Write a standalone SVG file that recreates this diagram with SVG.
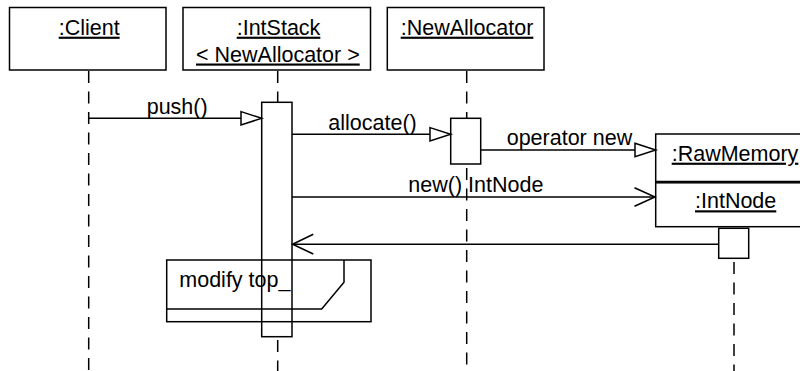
<svg xmlns="http://www.w3.org/2000/svg" width="800" height="371" viewBox="0 0 800 371">
<defs>
<style>
text{font-family:"Liberation Sans",Arial,sans-serif;font-size:21.5px;fill:#000}
.u{text-decoration:underline}
.box{fill:#fff;stroke:#000;stroke-width:1.5}
.act{fill:#fff;stroke:#000;stroke-width:1.5}
.life{stroke:#000;stroke-width:1.5;stroke-dasharray:12 8.5;fill:none}
.msg{stroke:#000;stroke-width:1.5;fill:none}
.tri{fill:#fff;stroke:#000;stroke-width:1.5}
</style>
</defs>
<rect width="800" height="371" fill="#fff"/>
<g id="lifelines">
<line class="life" x1="88.7" y1="71" x2="88.7" y2="371"/>
<line class="life" x1="277.7" y1="71" x2="277.7" y2="102"/>
<line class="life" x1="277.7" y1="340" x2="277.7" y2="371"/>
<line class="life" x1="466.7" y1="71" x2="466.7" y2="118"/>
<line class="life" x1="466.7" y1="168" x2="466.7" y2="371"/>
<line class="life" x1="734" y1="262" x2="734" y2="371"/>
</g>
<g id="client">
<rect class="box" x="9.5" y="7.5" width="156.5" height="62.5"/>
<text class="u" x="58.7" y="34.7">:Client</text>
</g>
<g id="intstack">
<rect class="box" x="183" y="7.5" width="187.5" height="62.5"/>
<text class="u" x="236.7" y="34.7">:IntStack</text>
<text class="u" x="196" y="61.5">&lt; NewAllocator &gt;</text>
<rect class="act" x="261.7" y="102.3" width="30.3" height="234.4"/>
</g>
<g id="newallocator">
<rect class="box" x="387.3" y="7.5" width="156.7" height="62.5"/>
<text class="u" x="400.7" y="34.7">:NewAllocator</text>
<rect class="act" x="450.7" y="118.3" width="30" height="45.7"/>
</g>
<g id="rawmemory">
<rect class="box" x="655.7" y="134" width="160" height="47.5"/>
<text class="u" x="671.7" y="160.7">:RawMemory</text>
</g>
<g id="intnode">
<rect class="box" x="655.7" y="182.8" width="160" height="43.9"/>
<text class="u" x="695" y="208.3">:IntNode</text>
<rect class="act" x="718.7" y="228.3" width="30" height="30"/>
</g>
<g id="note">
<rect x="166.7" y="260" width="204.3" height="61.7" fill="none" stroke="#000" stroke-width="1.5"/>
<polyline points="344,260 344,282.3 321.7,309 166.7,309" fill="none" stroke="#000" stroke-width="1.5"/>
<text x="179.3" y="286.7">modify top_</text>
</g>
<g id="connectors">
<line class="msg" x1="88.7" y1="118.3" x2="241" y2="118.3"/>
<polygon class="tri" points="241,111.6 261.7,118.3 241,125"/>
<text x="146.7" y="114">push()</text>
<line class="msg" x1="292" y1="134.3" x2="430" y2="134.3"/>
<polygon class="tri" points="430,127.6 450.7,134.3 430,141"/>
<text x="328.3" y="129.5">allocate()</text>
<line class="msg" x1="480.7" y1="150" x2="635" y2="150"/>
<polygon class="tri" points="635,143.3 655.7,150 635,156.7"/>
<text x="506.7" y="145">operator new</text>
<line class="msg" x1="292" y1="197" x2="655" y2="197"/>
<polyline class="msg" points="634.5,187.8 655,197 634.5,206.2"/>
<text x="408.3" y="191.7">new() IntNode</text>
<line class="msg" x1="292.5" y1="244.3" x2="718.7" y2="244.3"/>
<polyline class="msg" points="313.3,234.3 292.5,244.3 313.3,254"/>
</g>
</svg>
